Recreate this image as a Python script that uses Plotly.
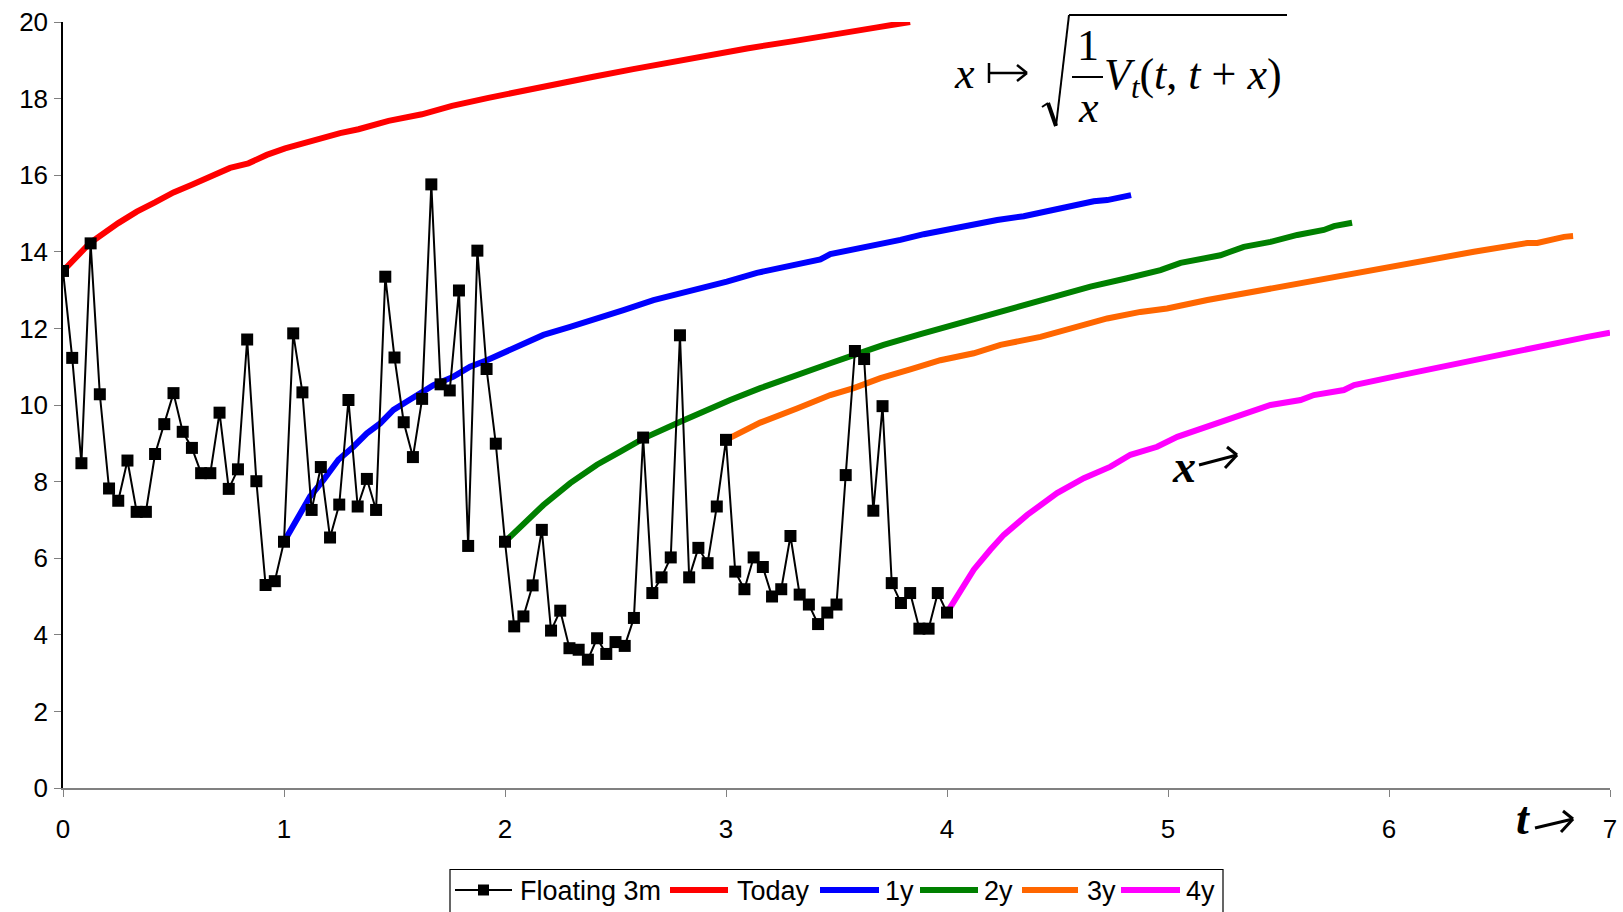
import plotly.graph_objects as go

# ---------------- data ----------------
floating_3m = [13.50, 11.23, 8.48, 14.22, 10.28, 7.82, 7.50, 8.55, 7.21, 7.21,
               8.72, 9.50, 10.31, 9.30, 8.88, 8.22, 8.22, 9.80, 7.81, 8.32,
               11.71, 8.01, 5.30, 5.40, 6.43, 11.87, 10.33, 7.26, 8.38, 6.54,
               7.40, 10.13, 7.35, 8.07, 7.26, 13.35, 11.24, 9.55, 8.64, 10.16,
               15.76, 10.54, 10.38, 12.99, 6.32, 14.03, 10.94, 8.99, 6.43, 4.22,
               4.48, 5.29, 6.74, 4.11, 4.63, 3.65, 3.61, 3.35, 3.91, 3.50,
               3.81, 3.71, 4.44, 9.15, 5.09, 5.50, 6.02, 11.82, 5.50, 6.27,
               5.87, 7.35, 9.09, 5.65, 5.19, 6.02, 5.77, 5.00, 5.19, 6.58,
               5.05, 4.79, 4.28, 4.58, 4.79, 8.17, 11.41, 11.20, 7.24, 9.97,
               5.35, 4.83, 5.09, 4.16, 4.16, 5.09, 4.58]
floating_step = 1 / 24  # observation spacing on the t axis

today_t = [0, 0.122, 0.25, 0.334, 0.416, 0.5, 0.583, 0.673, 0.756, 0.839,
           0.922, 1.005, 1.088, 1.171, 1.254, 1.337, 1.473, 1.624, 1.76, 1.925,
           2.04, 2.174, 2.40, 2.58, 2.884, 3.095, 3.306, 3.50, 3.684, 3.833]
today_v = [13.50, 14.23, 14.75, 15.05, 15.29, 15.55, 15.75, 15.96, 16.19, 16.31,
           16.53, 16.70, 16.84, 16.94, 17.10, 17.20, 17.42, 17.59, 17.81, 18.02,
           18.16, 18.33, 18.57, 18.77, 19.10, 19.31, 19.50, 19.70, 19.86, 20.00]

y1_t = [1.0, 1.058, 1.118, 1.178, 1.246, 1.314, 1.375, 1.435, 1.495, 1.556,
        1.616, 1.676, 1.767, 1.842, 1.918, 2.038, 2.174, 2.295, 2.40, 2.536,
        2.672, 2.793, 2.869, 3.004, 3.140, 3.261, 3.427, 3.472, 3.608, 3.789,
        3.895, 4.061, 4.227, 4.347, 4.513, 4.664, 4.725, 4.833]
y1_v = [6.43, 7.00, 7.61, 8.04, 8.57, 8.91, 9.26, 9.52, 9.87, 10.09,
        10.31, 10.52, 10.74, 11.00, 11.17, 11.48, 11.83, 12.04, 12.22, 12.48,
        12.74, 12.91, 13.02, 13.22, 13.45, 13.59, 13.80, 13.94, 14.09, 14.31,
        14.46, 14.65, 14.83, 14.93, 15.15, 15.32, 15.35, 15.48]

y2_t = [2.0, 2.099, 2.174, 2.295, 2.416, 2.522, 2.627, 2.793, 2.929, 3.019,
        3.155, 3.216, 3.336, 3.472, 3.578, 3.713, 3.880, 4.031, 4.182, 4.347,
        4.498, 4.649, 4.815, 4.966, 5.057, 5.178, 5.237, 5.343, 5.464, 5.585,
        5.705, 5.751, 5.833]
y2_v = [6.43, 7.00, 7.39, 7.96, 8.44, 8.78, 9.13, 9.56, 9.91, 10.13,
        10.44, 10.57, 10.83, 11.09, 11.30, 11.57, 11.85, 12.09, 12.35, 12.61,
        12.87, 13.09, 13.31, 13.52, 13.71, 13.85, 13.91, 14.13, 14.26, 14.44,
        14.57, 14.67, 14.76]

y3_t = [3.0, 3.155, 3.321, 3.472, 3.578, 3.699, 3.834, 3.970, 4.121, 4.242,
        4.423, 4.574, 4.725, 4.875, 4.996, 5.178, 5.388, 5.554, 5.720, 5.886,
        6.143, 6.384, 6.626, 6.671, 6.792, 6.833]
y3_v = [9.09, 9.54, 9.91, 10.26, 10.44, 10.70, 10.93, 11.17, 11.35, 11.57,
        11.78, 12.00, 12.26, 12.43, 12.52, 12.74, 12.96, 13.13, 13.33, 13.48,
        13.74, 14.00, 14.23, 14.23, 14.39, 14.41]

y4_t = [4.0, 4.061, 4.121, 4.196, 4.257, 4.363, 4.498, 4.619, 4.740, 4.830,
        4.951, 5.042, 5.178, 5.328, 5.464, 5.600, 5.660, 5.796, 5.842, 6.023,
        6.294, 6.521, 6.717, 6.747, 6.898, 7.0]
y4_v = [4.58, 5.17, 5.70, 6.22, 6.61, 7.13, 7.70, 8.09, 8.39, 8.70,
        8.91, 9.17, 9.43, 9.74, 10.00, 10.13, 10.26, 10.39, 10.52, 10.74,
        11.07, 11.35, 11.59, 11.59, 11.78, 11.89]

series_names = ["Floating 3m", "Today", "1y", "2y", "3y", "4y"]
series_colors = ["#000000", "#FF0000", "#0000FF", "#008000", "#FF6600", "#FF00FF"]
x_ticks = [0, 1, 2, 3, 4, 5, 6, 7]
y_ticks = [0, 2, 4, 6, 8, 10, 12, 14, 16, 18, 20]

# ---------------- layout geometry ----------------
W, H = 1623, 912
ML, MR, MT, MB = 63, 13, 22, 124
PW, PH = W - ML - MR, H - MT - MB


def px(X):
    return (X - ML) / PW


def py(Y):
    return (H - MB - Y) / PH


fig = go.Figure()

curves = [(today_t, today_v), (y1_t, y1_v), (y2_t, y2_v), (y3_t, y3_v), (y4_t, y4_v)]
for (tt, vv), name, col in zip(curves, series_names[1:], series_colors[1:]):
    fig.add_trace(go.Scatter(x=tt, y=vv, mode="lines", name=name,
                             line=dict(color=col, width=6), showlegend=False))

t_float = [i * floating_step for i in range(len(floating_3m))]
fig.add_trace(go.Scatter(x=t_float, y=floating_3m, mode="lines+markers",
                         name=series_names[0],
                         line=dict(color="#000000", width=2),
                         marker=dict(symbol="square", size=12, color="#000000"),
                         showlegend=False))

SERIF = "Liberation Serif, Times New Roman, serif"
SANS = "Liberation Sans, Arial, sans-serif"

annotations = []
shapes = []


def text_at(text, X, Ybase, size, family=SERIF, anchor="left", color="#000"):
    # place text so its baseline lands at pixel Ybase
    ymid = Ybase - 0.3375 * size
    annotations.append(dict(text=text, x=px(X), y=py(ymid), xref="paper", yref="paper",
                            xanchor=anchor, yanchor="middle", showarrow=False,
                            borderpad=0, font=dict(family=family, size=size, color=color)))


def seg(x0, y0, x1, y1, width=2, color="#000"):
    shapes.append(dict(type="line", xref="paper", yref="paper",
                       x0=px(x0), y0=py(y0), x1=px(x1), y1=py(y1),
                       line=dict(color=color, width=width)))


def arrow(x0, y0, x1, y1, width=3):
    # slanted arrow with an open chevron head, tip at (x1, y1)
    seg(x0, y0, x1, y1, width)
    seg(x1 - 10, y1 - 8, x1, y1, width)
    seg(x1 - 12, y1 + 13, x1, y1, width)


# ---- formula  x -> sqrt( 1/x V_t(t, t+x) ) ----
text_at("<i>x</i>", 953, 88, 44)
seg(989, 63, 989, 83, 2.5)
seg(989, 73, 1026, 73, 2.5)
seg(1017, 65, 1027, 73, 2.5)
seg(1017, 81, 1027, 73, 2.5)
seg(1042, 107, 1048, 103, 2)
seg(1048, 103, 1056, 126, 4)
seg(1056, 126, 1069, 15, 2)
seg(1069, 15, 1287, 15, 2)
text_at("1", 1088, 60, 44, anchor="center")
seg(1072, 77, 1103, 77, 2)
text_at("<i>x</i>", 1088, 122, 44, anchor="center")
text_at("<i>V</i><sub><i>t</i></sub>(<i>t</i>, <i>t</i> + <i>x</i>)", 1103, 92, 44)

# ---- axis direction labels ----
text_at("<b><i>x</i></b>", 1171, 482, 46)
arrow(1199, 465, 1237, 455)
text_at("<b><i>t</i></b>", 1515, 834, 46)
arrow(1535, 828, 1573, 819)

# ---- legend (drawn) ----
LEG_Y = 890
shapes.append(dict(type="rect", xref="paper", yref="paper",
                   x0=px(450), x1=px(1223), y0=py(869.5), y1=py(940),
                   line=dict(color="#000", width=1.2), fillcolor="rgba(0,0,0,0)"))
leg_items = [(455, 512, 519), (670, 728, 736), (820, 879, 884),
             (920, 978, 983), (1022, 1078, 1086), (1121, 1180, 1185)]
for i, ((l0, l1, tx), name, col) in enumerate(zip(leg_items, series_names, series_colors)):
    if i == 0:
        seg(l0, LEG_Y, l1, LEG_Y, 2, col)
        shapes.append(dict(type="rect", xref="paper", yref="paper",
                           x0=px((l0 + l1) / 2 - 5.5), x1=px((l0 + l1) / 2 + 5.5),
                           y0=py(LEG_Y - 5.5), y1=py(LEG_Y + 5.5),
                           line=dict(width=0), fillcolor=col))
    else:
        seg(l0, LEG_Y, l1, LEG_Y, 6, col)
    annotations.append(dict(text=name, x=px(tx), y=py(LEG_Y + 1), xref="paper", yref="paper",
                            xanchor="left", yanchor="middle", showarrow=False, borderpad=0,
                            font=dict(family=SANS, size=27, color="#000")))

fig.update_layout(
    width=W, height=H,
    margin=dict(l=ML, r=MR, t=MT, b=MB, pad=0, autoexpand=False),
    paper_bgcolor="white", plot_bgcolor="white",
    showlegend=False,
    annotations=annotations, shapes=shapes,
    xaxis=dict(range=[0, 7], tickvals=x_ticks, ticktext=[str(v) for v in x_ticks],
               automargin=False,
               showgrid=False, zeroline=False, showline=True, linecolor="#808080",
               linewidth=2, ticks="outside", ticklen=7, tickcolor="#808080", tickwidth=1,
               ticklabelstandoff=10,
               tickfont=dict(family=SANS, size=26, color="#000")),
    yaxis=dict(range=[0, 20], tickvals=y_ticks, ticktext=[str(v) for v in y_ticks],
               automargin=False,
               showgrid=False, zeroline=False, showline=True, linecolor="#000000",
               linewidth=1.5, ticks="outside", ticklen=7, tickcolor="#808080", tickwidth=1,
               ticklabelstandoff=1,
               tickfont=dict(family=SANS, size=26, color="#000")),
)

fig.write_html("out.html", config={"displayModeBar": False},
               post_script="document.body.style.margin='0';document.body.style.overflow='hidden';")
